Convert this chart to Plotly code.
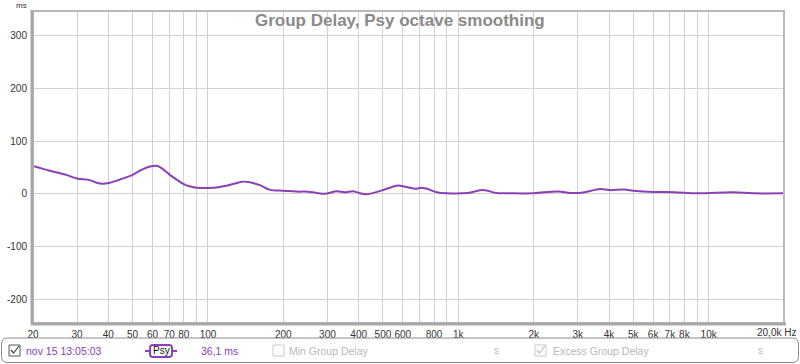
import plotly.graph_objects as go

# ---------------- data ----------------
freq_hz = [20, 23.3, 27.2, 30, 33.7, 35.7, 38, 40.5, 45, 50, 55, 60, 63, 66, 70, 75, 80, 85, 90,
           100, 112, 127, 137, 147, 162, 177, 200, 233, 245, 270, 293, 327, 352, 380, 405, 428,
           493, 568, 620, 675, 710, 750, 820, 900, 1090, 1260, 1420, 1600, 2000, 2500, 2800,
           3100, 3700, 4000, 4600, 5000, 6000, 7300, 9000, 12600, 15000, 20000]
group_delay_ms = [53, 44, 36, 29, 26, 21.5, 19, 21, 28, 36, 47, 53, 53, 47, 37, 27, 18.5, 14, 11.5,
                  11, 13, 19, 23, 22, 16, 7.5, 6, 4, 4.5, 2, 0, 5, 3, 5, 1, -1,
                  6, 15.5, 13, 9.5, 11.5, 9.5, 3, 1, 1.5, 7, 1.5, 1, 1, 4.5, 1.5,
                  2, 9, 7, 8, 6, 3.5, 3, 1, 3, 1, 1]

x_tick_vals = [20, 30, 40, 50, 60, 70, 80, 90, 100, 200, 300, 400, 500, 600, 700, 800, 900,
               1000, 2000, 3000, 4000, 5000, 6000, 7000, 8000, 9000, 10000, 20000]
x_tick_text = ["20", "30", "40", "50", "60", "70", "80", "", "100", "200", "300", "400", "500",
               "600", "", "800", "", "1k", "2k", "3k", "4k", "5k", "6k", "7k", "8k", "", "10k", ""]
y_tick_vals = [-200, -100, 0, 100, 200, 300]
y_tick_text = ["-200", "-100", "0", "100", "200", "300"]

title_text = "Group Delay, Psy octave smoothing"
legend_name = "nov 15 13:05:03"
legend_tag = "Psy"
legend_value = "36,1 ms"

# ---------------- layout helpers ----------------
W, H = 800, 364
ML, MR, MT, MB = 33, 16, 11, 41
PW, PH = W - ML - MR, H - MT - MB
PURPLE = "#8B40B6"
FONT = "Liberation Sans"


def px(x):
    return (x - ML) / PW


def py(y):
    return (H - MB - y) / PH


def rrect(x0, y0, x1, y1, r):
    pts = [
        f"M {px(x0 + r)} {py(y0)}",
        f"L {px(x1 - r)} {py(y0)}",
        f"Q {px(x1)} {py(y0)} {px(x1)} {py(y0 + r)}",
        f"L {px(x1)} {py(y1 - r)}",
        f"Q {px(x1)} {py(y1)} {px(x1 - r)} {py(y1)}",
        f"L {px(x0 + r)} {py(y1)}",
        f"Q {px(x0)} {py(y1)} {px(x0)} {py(y1 - r)}",
        f"L {px(x0)} {py(y0 + r)}",
        f"Q {px(x0)} {py(y0)} {px(x0 + r)} {py(y0)}",
        "Z",
    ]
    return " ".join(pts)


fig = go.Figure()
fig.add_trace(go.Scatter(
    x=freq_hz, y=group_delay_ms, mode="lines",
    line=dict(color=PURPLE, width=2, shape="spline", smoothing=0.9),
    hoverinfo="skip", showlegend=False,
))

shapes = []
# plot frame
shapes.append(dict(type="rect", xref="paper", yref="paper", x0=0, x1=1, y0=0, y1=1,
                   line=dict(color="#b8b8b8", width=2), layer="above"))
shapes.append(dict(type="line", xref="paper", yref="paper", x0=px(32), x1=px(32), y0=py(324), y1=py(10),
                   line=dict(color="#a8a8a8", width=3), layer="above"))
shapes.append(dict(type="line", xref="paper", yref="paper", x0=px(31), x1=px(786), y0=py(324), y1=py(324),
                   line=dict(color="#a8a8a8", width=3), layer="above"))

# legend bar
shapes.append(dict(type="path", xref="paper", yref="paper", path=rrect(1.5, 338, 798.5, 362.5, 6),
                   line=dict(color="#8c8c8c", width=1)))
# checkbox 1 (checked)
shapes.append(dict(type="rect", xref="paper", yref="paper", x0=px(9), x1=px(20), y0=py(356), y1=py(345),
                   line=dict(color="#555555", width=1)))
shapes.append(dict(type="path", xref="paper", yref="paper",
                   path=f"M {px(11)} {py(350)} L {px(13.5)} {py(353)} L {px(19)} {py(346)}",
                   line=dict(color="#444444", width=1.2)))
# Psy tag
shapes.append(dict(type="line", xref="paper", yref="paper", x0=px(145), x1=px(177), y0=py(351), y1=py(351),
                   line=dict(color=PURPLE, width=2)))
shapes.append(dict(type="path", xref="paper", yref="paper", path=rrect(150, 345, 172, 357, 3),
                   line=dict(color=PURPLE, width=2), fillcolor="white"))
# Min group delay checkbox
shapes.append(dict(type="rect", xref="paper", yref="paper", x0=px(273), x1=px(284), y0=py(356), y1=py(345),
                   line=dict(color="#c8c8c8", width=1)))
# Excess group delay checkbox
shapes.append(dict(type="rect", xref="paper", yref="paper", x0=px(535), x1=px(546), y0=py(356), y1=py(345),
                   line=dict(color="#c8c8c8", width=1)))
shapes.append(dict(type="path", xref="paper", yref="paper",
                   path=f"M {px(537)} {py(350)} L {px(539.5)} {py(353)} L {px(545)} {py(346)}",
                   line=dict(color="#c0c0c0", width=1.2)))


def ann(text, x, y, size=10, color="#333333", xanchor="left", bold=False):
    return dict(text=f"<b>{text}</b>" if bold else text, xref="paper", yref="paper",
                x=px(x), y=py(y), xanchor=xanchor, yanchor="middle", showarrow=False,
                font=dict(family=FONT, size=size, color=color))


annotations = [
    ann(title_text, 400, 20, size=17, color="#8a8a8a", xanchor="center", bold=True),
    ann("ms", 21, 5, size=8, color="#333333", xanchor="center"),
    ann("20,0k Hz", 798, 333, size=10, color="#333333", xanchor="right"),
    ann(legend_name, 24, 351, size=10.5, color=PURPLE),
    ann(legend_tag, 161, 351, size=10, color="#111111", xanchor="center"),
    ann(legend_value, 219, 351, size=10.5, color=PURPLE, xanchor="center"),
    ann("Min Group Delay", 287, 351, size=10.5, color="#b8b8b8"),
    ann("s", 497, 351, size=10, color="#b8b8b8", xanchor="center"),
    ann("Excess Group Delay", 551, 351, size=10.5, color="#b8b8b8"),
    ann("s", 760, 351, size=10, color="#b8b8b8", xanchor="center"),
]

fig.update_layout(
    width=W, height=H,
    margin=dict(l=ML, r=MR, t=MT, b=MB, pad=0, autoexpand=False),
    paper_bgcolor="white", plot_bgcolor="white",
    font=dict(family=FONT, size=10, color="#333333"),
    showlegend=False,
    shapes=shapes,
    annotations=annotations,
    xaxis=dict(type="log", range=[1.30103, 4.30103], tickmode="array",
               tickvals=x_tick_vals, ticktext=x_tick_text, showgrid=True,
               gridcolor="#d2d2d2", gridwidth=1, zeroline=False, showline=False,
               ticks="", ticklabelstandoff=4, automargin=False,
               tickfont=dict(size=10, color="#333333")),
    yaxis=dict(range=[-245.6, 347.5], tickmode="array", tickvals=y_tick_vals,
               ticktext=y_tick_text, showgrid=True, gridcolor="#d2d2d2", gridwidth=1,
               zeroline=False, showline=False, ticks="", ticklabelstandoff=5,
               automargin=False, tickfont=dict(size=10, color="#333333")),
)

fig.write_html(
    "out.html",
    config={"displayModeBar": False},
    post_script="document.body.style.margin='0';document.body.style.padding='0';"
                "document.body.style.overflow='hidden';",
)
